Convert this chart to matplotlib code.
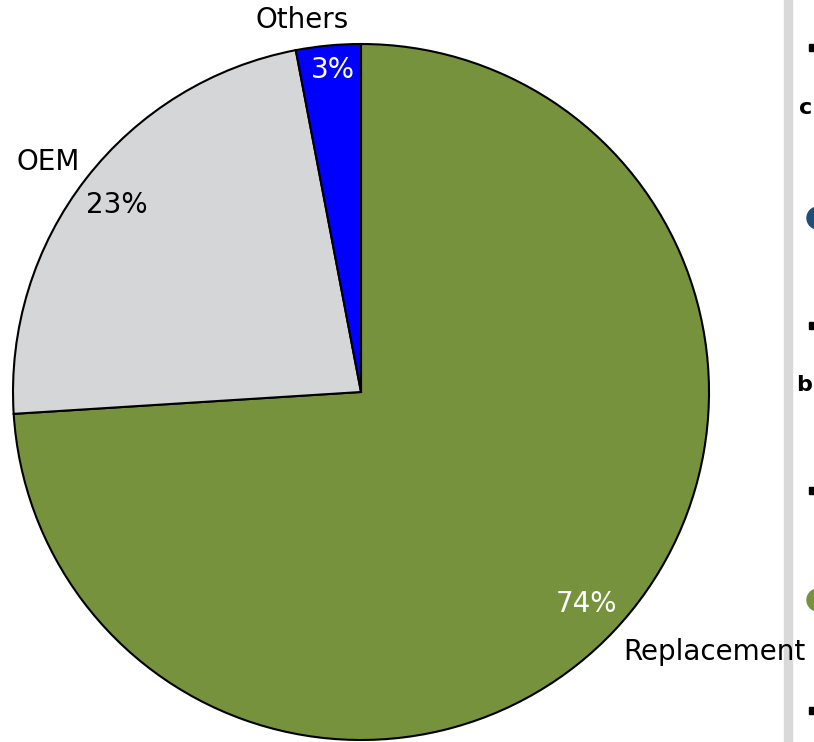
import matplotlib
matplotlib.use("Agg")
import matplotlib.pyplot as plt
from matplotlib.patches import Rectangle, Circle

# data
labels = ["Replacement", "OEM", "Others"]
shares = [74, 23, 3]
colors = ["#77923C", "#D5D6D8", "#0000FF"]
pct_colors = ["white", "black", "white"]

W, H = 814, 742
fig = plt.figure(figsize=(W / 100, H / 100), dpi=100)
ax = fig.add_axes([0, 0, 1, 1])

cx, cy, r = 361, H - 392, 348
wedges, _ = ax.pie(shares, colors=colors, startangle=90, counterclock=False,
                   center=(cx, cy), radius=r, frame=True,
                   wedgeprops=dict(edgecolor="black", linewidth=1.5))
ax.set_xlim(0, W); ax.set_ylim(0, H)
ax.set_aspect("equal")
ax.axis("off")

font = "DejaVu Sans"
fs = 20
# category labels (pixel positions from top-left)
name_pos = {"Replacement": (714, 652), "OEM": (48, 162), "Others": (302, 20)}
pct_pos = {"Replacement": (587, 604), "OEM": (117, 205), "Others": (333, 70)}
for lab, val, pc in zip(labels, shares, pct_colors):
    x, y = name_pos[lab]
    ax.text(x, H - y, lab, ha="center", va="center", fontsize=fs, family=font)
    x, y = pct_pos[lab]
    ax.text(x, H - y, f"{val}%", ha="center", va="center", fontsize=fs,
            family=font, color=pc)

# slide remnants at the right edge
ax.add_patch(Rectangle((784, 0), 8, H, color="#D9D9D9", zorder=0))
for yy in [47, 325, 490, 710]:
    ax.add_patch(Rectangle((809, H - yy - 4), 6, 7, color="black", clip_on=False))
ax.add_patch(Circle((818, H - 218), 11, color="#1F4E79", clip_on=False))
ax.add_patch(Circle((818, H - 600), 11, color="#77923C", clip_on=False))
ax.text(812, H - 108, "c", fontsize=16, family=font, ha="right", va="center",
        fontweight="bold")
ax.text(812, H - 385, "b", fontsize=16, family=font, ha="right", va="center",
        fontweight="bold")

fig.savefig("out.png", dpi=100)
